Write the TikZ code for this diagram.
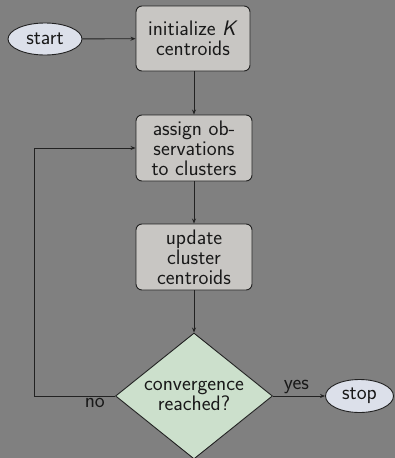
\documentclass[tikz,border=0pt]{standalone}
\usetikzlibrary{shapes.geometric,arrows.meta}
\definecolor{bg}{HTML}{808080}
\definecolor{boxfill}{HTML}{C8C6C3}
\definecolor{ellfill}{HTML}{DCE0EA}
\definecolor{diafill}{HTML}{CCE0CC}
\definecolor{edge}{HTML}{222222}
\begin{document}
\begin{tikzpicture}[x=1pt,y=-1pt,
  font=\sffamily\fontsize{21}{20}\selectfont,
  every node/.style={text=black!90},
  procbox/.style={draw=edge,line width=0.9pt,fill=boxfill,rounded corners=6pt,
    minimum width=116pt,minimum height=66pt,align=center,inner sep=0pt},
  termell/.style={ellipse,draw=edge,line width=0.9pt,fill=ellfill,
    minimum width=74pt,minimum height=32pt,inner sep=0pt},
  decision/.style={diamond,draw=edge,line width=0.9pt,fill=diafill,
    minimum width=157pt,minimum height=126pt,shape aspect=1.25,inner sep=0pt,align=center},
  flow/.style={draw=edge,line width=0.9pt,-{Stealth[length=5pt,width=4pt]}},
  lbl/.style={font=\sffamily\fontsize{21}{20}\selectfont,inner sep=2pt}]
\fill[bg] (0,0) rectangle (395,458);
\useasboundingbox (0,0) rectangle (395,458);
\node[termell] (start) at (45,39) {start};
\node[procbox,minimum width=114pt,minimum height=65pt] (init) at (193,38.5) {initialize \textit{K}\\centroids};
\node[procbox] (assign) at (194,148) {assign ob-\\servations\\to clusters};
\node[procbox] (update) at (194,257) {update\\cluster\\centroids};
\node[decision] (conv) at (194,396) {convergence\\reached?};
\node[termell,minimum width=68pt,minimum height=33pt] (stop) at (359.5,396) {stop};
\coordinate (loopc) at (34,396);
\draw[flow] (start) -- (init);
\draw[flow] (init.south -| update.north) -- (assign);
\draw[flow] (assign) -- (update);
\draw[flow] (update) -- (conv);
\draw[flow] (conv) -- node[lbl,above,pos=0.45]{yes} (stop);
\draw[flow] (conv.west) -- node[lbl,below,pos=0.25]{no} (loopc) |- (assign.west);
\end{tikzpicture}
\end{document}
